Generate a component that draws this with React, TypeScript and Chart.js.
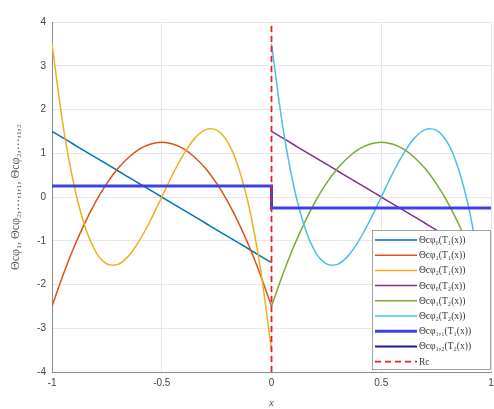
import React, { useEffect, useRef } from "react";
import { Chart, registerables } from "chart.js";

Chart.register(...registerables);

// x samples for each half of the domain
const X_LEFT = [-1, -0.95, -0.9, -0.85, -0.8, -0.75, -0.7, -0.65, -0.6, -0.55, -0.5, -0.45, -0.4, -0.35, -0.3, -0.25, -0.2, -0.15, -0.1, -0.05, 0];
const X_RIGHT = [0, 0.05, 0.1, 0.15, 0.2, 0.25, 0.3, 0.35, 0.4, 0.45, 0.5, 0.55, 0.6, 0.65, 0.7, 0.75, 0.8, 0.85, 0.9, 0.95, 1];

// element T1 (x in [-1,0])
const PHI0_T1 = [1.5, 1.35, 1.2, 1.05, 0.9, 0.75, 0.6, 0.45, 0.3, 0.15, 0, -0.15, -0.3, -0.45, -0.6, -0.75, -0.9, -1.05, -1.2, -1.35, -1.5];
const PHI1_T1 = [-2.5, -1.79, -1.15, -0.59, -0.1, 0.31, 0.65, 0.91, 1.1, 1.21, 1.25, 1.21, 1.1, 0.91, 0.65, 0.31, -0.1, -0.59, -1.15, -1.79, -2.5];
const PHI2_T1 = [3.5, 1.65, 0.28, -0.67, -1.26, -1.53, -1.54, -1.34, -0.98, -0.52, 0, 0.52, 0.98, 1.34, 1.54, 1.53, 1.26, 0.67, -0.28, -1.65, -3.5];
// element T2 (x in [0,1])
const PHI0_T2 = [1.5, 1.35, 1.2, 1.05, 0.9, 0.75, 0.6, 0.45, 0.3, 0.15, 0, -0.15, -0.3, -0.45, -0.6, -0.75, -0.9, -1.05, -1.2, -1.35, -1.5];
const PHI1_T2 = [-2.5, -1.79, -1.15, -0.59, -0.1, 0.31, 0.65, 0.91, 1.1, 1.21, 1.25, 1.21, 1.1, 0.91, 0.65, 0.31, -0.1, -0.59, -1.15, -1.79, -2.5];
const PHI2_T2 = [3.5, 1.65, 0.28, -0.67, -1.26, -1.53, -1.54, -1.34, -0.98, -0.52, 0, 0.52, 0.98, 1.34, 1.54, 1.53, 1.26, 0.67, -0.28, -1.65, -3.5];

// constant (step) functions
const STEP_X = [-1, 0, 0, 1];
const STEP_11 = [0.25, 0.25, -0.25, -0.25];
const STEP_12_X = [0, 1];
const STEP_12 = [-0.25, -0.25];

// interface line
const RC_X = [0, 0];
const RC_Y = [-4, 4];

const LABELS = [
  "Θcφ₀(T₁(x))",
  "Θcφ₁(T₁(x))",
  "Θcφ₂(T₁(x))",
  "Θcφ₀(T₂(x))",
  "Θcφ₁(T₂(x))",
  "Θcφ₂(T₂(x))",
  "Θcφ₁,₁(T₁(x))",
  "Θcφ₁,₂(T₂(x))",
  "Rc",
];

const X_TICKS = [-1, -0.5, 0, 0.5, 1];
const Y_TICKS = [-4, -3, -2, -1, 0, 1, 2, 3, 4];

const pts = (xs: number[], ys: number[]) => xs.map((x, i) => ({ x, y: ys[i] }));

const legendPlugin = {
  id: "boxLegend",
  afterDraw(chart: any) {
    const { ctx, chartArea } = chart;
    const w = 119;
    const h = 140;
    const x0 = chartArea.right - w;
    const y0 = chartArea.bottom - h - 2;
    ctx.save();
    ctx.fillStyle = "#ffffff";
    ctx.fillRect(x0, y0, w, h);
    ctx.strokeStyle = "#8a8a8a";
    ctx.lineWidth = 0.8;
    ctx.strokeRect(x0 + 0.5, y0 + 0.5, w - 1, h - 1);
    const ds = chart.data.datasets;
    ds.forEach((d: any, i: number) => {
      const y = y0 + 10 + i * 15.2;
      ctx.beginPath();
      ctx.setLineDash(d.borderDash || []);
      ctx.strokeStyle = d.borderColor;
      ctx.lineWidth = d.borderWidth;
      ctx.moveTo(x0 + 3, y);
      ctx.lineTo(x0 + 45, y);
      ctx.stroke();
      ctx.setLineDash([]);
      ctx.fillStyle = "#333333";
      ctx.font = '9.5px "Liberation Serif"';
      ctx.textBaseline = "middle";
      ctx.textAlign = "left";
      ctx.fillText(d.label, x0 + 47, y + 0.5);
    });
    ctx.restore();
  },
};

export default function App() {
  const ref = useRef<HTMLCanvasElement | null>(null);

  useEffect(() => {
    if (!ref.current) return;
    const curve = (label: string, data: any[], color: string, order: number) => ({
      label,
      data,
      borderColor: color,
      backgroundColor: color,
      borderWidth: 1.5,
      pointRadius: 0,
      fill: false,
      tension: 0.3,
      order,
    });
    const chart = new Chart(ref.current, {
      type: "line",
      data: {
        datasets: [
          curve(LABELS[0], pts(X_LEFT, PHI0_T1), "#0072BD", 9),
          curve(LABELS[1], pts(X_LEFT, PHI1_T1), "#D95319", 8),
          curve(LABELS[2], pts(X_LEFT, PHI2_T1), "#EDB120", 7),
          curve(LABELS[3], pts(X_RIGHT, PHI0_T2), "#7E2F8E", 6),
          curve(LABELS[4], pts(X_RIGHT, PHI1_T2), "#77AC30", 5),
          curve(LABELS[5], pts(X_RIGHT, PHI2_T2), "#4DBEEE", 4),
          { ...curve(LABELS[6], pts(STEP_X, STEP_11), "#4141E0", 2), borderWidth: 3, tension: 0 },
          { ...curve(LABELS[7], pts(STEP_12_X, STEP_12), "#1a1a9a", 3), borderWidth: 2, tension: 0 },
          { ...curve(LABELS[8], pts(RC_X, RC_Y), "#E8231F", 1), borderWidth: 1.8, borderDash: [6, 4], tension: 0 },
        ],
      },
      options: {
        animation: false,
        responsive: false,
        events: [],
        layout: { padding: { top: 22, right: 3, left: 0, bottom: 0 } },
        plugins: { legend: { display: false }, tooltip: { enabled: false } },
        scales: {
          x: {
            type: "linear",
            min: -1,
            max: 1,
            afterBuildTicks: (s: any) => {
              s.ticks = X_TICKS.map((v) => ({ value: v }));
            },
            afterFit: (s: any) => {
              s.height = 37;
              s.paddingLeft = 0;
              s.paddingRight = 0;
            },
            ticks: {
              color: "#444",
              font: { family: "Liberation Sans", size: 10 },
              padding: 5,
              callback: (v: any) => String(v),
            },
            grid: { color: "#e6e6e6", drawTicks: false },
            border: { color: "#8c8c8c" },
            title: {
              display: true,
              text: "x",
              color: "#444",
              font: { family: "Liberation Serif", size: 10, style: "italic" },
              padding: { top: 2, bottom: 0 },
            },
          },
          y: {
            type: "linear",
            min: -4,
            max: 4,
            afterBuildTicks: (s: any) => {
              s.ticks = Y_TICKS.map((v) => ({ value: v }));
            },
            afterFit: (s: any) => {
              s.width = 52;
              s.paddingTop = 0;
              s.paddingBottom = 0;
            },
            ticks: {
              color: "#444",
              font: { family: "Liberation Sans", size: 10 },
              padding: 6,
              callback: (v: any) => String(v),
            },
            grid: { color: "#e6e6e6", drawTicks: false },
            border: { color: "#8c8c8c" },
            title: {
              display: true,
              text: "Θcφ₁, Θcφ₂,…,₁,₁, Θcφ₂,…,₁,₂",
              color: "#555",
              font: { family: "Liberation Serif", size: 12 },
              padding: { top: 9, bottom: 4 },
            },
          },
        },
      },
      plugins: [legendPlugin],
    });
    return () => chart.destroy();
  }, []);

  return (
    <div style={{ position: "fixed", left: 0, top: 0, width: 494, height: 409, background: "#fff" }}>
      <canvas ref={ref} width={494} height={409} style={{ width: 494, height: 409, display: "block" }} />
    </div>
  );
}
